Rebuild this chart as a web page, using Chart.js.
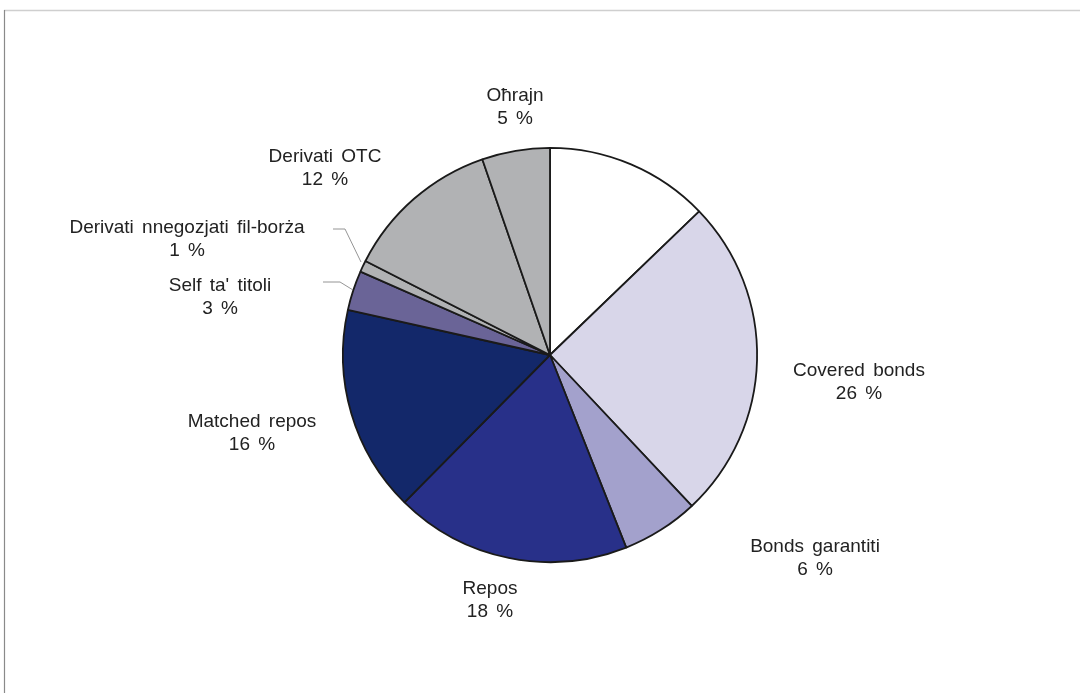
<!DOCTYPE html>
<html>
<head>
<meta charset="utf-8">
<script src="https://cdn.jsdelivr.net/npm/chart.js@4.4.1/dist/chart.umd.min.js"></script>
<style>
  html, body { margin: 0; padding: 0; background: #ffffff; }
  #wrap { position: relative; width: 1080px; height: 693px; }
</style>
</head>
<body>
<div id="wrap"><canvas id="c" width="1080" height="693"></canvas></div>
<script>
// ---- data (clockwise from 12 o'clock) ----
const categories = ['', 'Covered bonds', 'Bonds garantiti', 'Repos', 'Matched repos', "Self ta' titoli", 'Derivati nnegozjati fil-borża', 'Derivati OTC', 'Oħrajn'];
const shares = [12.8, 25.2, 6.0, 18.4, 16.1, 3.1, 0.9, 12.2, 5.3];
const shareLabels = ['', '26 %', '6 %', '18 %', '16 %', '3 %', '1 %', '12 %', '5 %'];

// ---- styling ----
const sliceColors = ['#ffffff', '#d8d6e9', '#a3a1cc', '#283089', '#13286a', '#6a6497', '#b1b2b4', '#b1b2b4', '#b1b2b4'];
// label block centre offsets from pie centre (px)
const labelOffsets = [null, [309, 27], [265, 203], [-60, 245], [-298, 78], [-330, -58], [-363, -116], [-225, -187], [-35, -248]];
// leader lines (offsets from pie centre) for the small slices
const leaders = {
  5: [[-227, -73], [-210, -73], [-197, -65]],
  6: [[-217, -126], [-205, -126], [-189, -93]]
};

const labelPlugin = {
  id: 'labels',
  beforeDraw(chart) {
    const ctx = chart.ctx;
    ctx.save();
    ctx.fillStyle = '#ffffff';
    ctx.fillRect(0, 0, chart.width, chart.height);
    // frame lines
    ctx.strokeStyle = '#cfcfcf';
    ctx.lineWidth = 1.5;
    ctx.beginPath(); ctx.moveTo(4, 10.5); ctx.lineTo(1080, 10.5); ctx.stroke();
    ctx.strokeStyle = '#8a8a8a';
    ctx.lineWidth = 1.2;
    ctx.beginPath(); ctx.moveTo(4.5, 10); ctx.lineTo(4.5, 693); ctx.stroke();
    ctx.restore();
  },
  afterDatasetsDraw(chart) {
    const ctx = chart.ctx;
    const arcs = chart.getDatasetMeta(0).data;
    const cx = arcs[0].x, cy = arcs[0].y;
    ctx.save();
    // leaders
    ctx.strokeStyle = '#7a7a7a';
    ctx.lineWidth = 0.8;
    Object.keys(leaders).forEach(k => {
      const pts = leaders[k];
      ctx.beginPath();
      pts.forEach((p, i) => {
        if (i === 0) ctx.moveTo(cx + p[0], cy + p[1]); else ctx.lineTo(cx + p[0], cy + p[1]);
      });
      ctx.stroke();
    });
    ctx.fillStyle = '#222222';
    ctx.font = '19px "Liberation Sans", Arial, sans-serif';
    try { ctx.wordSpacing = '3px'; } catch (e) {}
    ctx.textAlign = 'center';
    ctx.textBaseline = 'middle';
    categories.forEach((name, i) => {
      const off = labelOffsets[i];
      if (!off || !name) return;
      const x = cx + off[0], y = cy + off[1];
      ctx.fillText(name, x, y - 11.5);
      ctx.fillText(shareLabels[i], x, y + 11.5);
    });
    ctx.restore();
  }
};

new Chart(document.getElementById('c'), {
  type: 'pie',
  data: {
    labels: categories,
    datasets: [{
      data: shares,
      backgroundColor: sliceColors,
      borderColor: '#1a1a1a',
      borderWidth: 1.8
    }]
  },
  options: {
    responsive: false,
    animation: false,
    layout: { padding: { left: 342, right: 322, top: 147, bottom: 130 } },
    plugins: {
      legend: { display: false },
      tooltip: { enabled: false }
    }
  },
  plugins: [labelPlugin]
});
</script>
</body>
</html>
